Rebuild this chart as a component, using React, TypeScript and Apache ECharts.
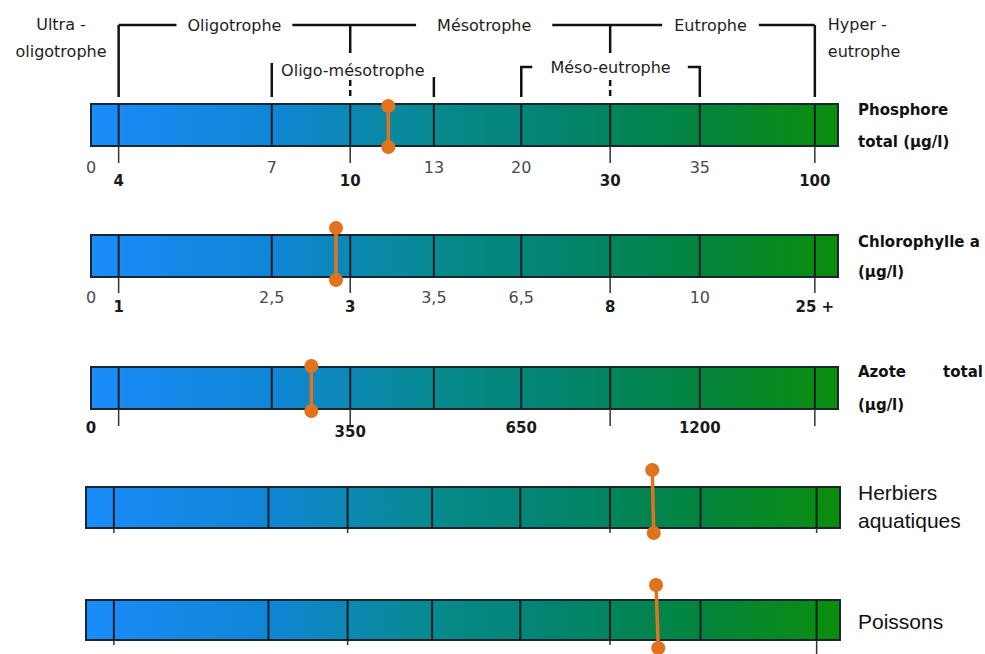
import React, { useEffect, useRef } from "react";
import * as echarts from "echarts";

// ---------- DATA ----------
const classLabels = ["Ultra -\noligotrophe", "Oligotrophe", "Mésotrophe", "Eutrophe", "Hyper -\neutrophe"];
const subClassLabels = ["Oligo-mésotrophe", "Méso-eutrophe"];
// position of each class boundary along the scale (% of the bar length)
const boundaryPos = [3.7, 24.2, 34.7, 45.9, 57.6, 69.5, 81.5, 96.9];
// boundaries between main classes (others are sub-class boundaries)
const majorBoundary = [true, false, true, false, false, true, false, true];
// tick labels: index 0 sits at the start of the scale, index i at boundary i-1
const phosphoreTicks = ["0", "4", "7", "10", "13", "20", "30", "35", "100"];
const chlorophylleTicks = ["0", "1", "2,5", "3", "3,5", "6,5", "8", "10", "25 +"];
const azoteTicks = ["0", "", "", "350", "", "650", "", "1200", ""];
const herbiersTicks: string[] = [];
const poissonsTicks: string[] = [];
const parameterLine1 = ["Phosphore", "Chlorophylle a", "Azote||total", "Herbiers", "Poissons"];
const parameterLine2 = ["total (µg/l)", "(µg/l)", "(µg/l)", "aquatiques", ""];
// position of the lake on each scale (% of the bar length), top and bottom end of the marker
const markerTopPos = [39.8, 32.8, 29.5, 75.1, 75.6];
const markerBottomPos = [39.8, 32.8, 29.5, 75.3, 75.9];

const tickLabels = [phosphoreTicks, chlorophylleTicks, azoteTicks, herbiersTicks, poissonsTicks];

// ---------- LAYOUT / STYLE ----------
const W = 985;
const H = 654;
const rowLayout = [
  { left: 91, right: 838, top: 104, height: 42, tickBelow: 17, normalDy: 21, boldDy: 35, allBold: false, mAbove: -2, mBelow: 1, l1: 6, l2: -4, big: false, lastTickBelow: 0 },
  { left: 91, right: 838, top: 235, height: 42, tickBelow: 16, normalDy: 20, boldDy: 30, allBold: false, mAbove: 7, mBelow: 3, l1: 7, l2: -5, big: false, lastTickBelow: 0 },
  { left: 91, right: 838, top: 367, height: 42, tickBelow: 17, normalDy: 19, boldDy: 23, allBold: true, mAbove: 1, mBelow: 2, l1: 5, l2: -4, big: false, lastTickBelow: 0 },
  { left: 86, right: 840, top: 487, height: 41, tickBelow: 5, normalDy: 20, boldDy: 30, allBold: false, mAbove: 17, mBelow: 5, l1: 5, l2: -8, big: true, lastTickBelow: 0 },
  { left: 86, right: 840, top: 600, height: 40, tickBelow: 5, normalDy: 20, boldDy: 30, allBold: false, mAbove: 15, mBelow: 8, l1: 0, l2: 0, big: true, lastTickBelow: 20 },
];
const ORANGE = "#e2731e";
const COMIC = "'DejaVu Sans', 'Noto Sans', sans-serif";
const ARIAL = "'Liberation Sans', Arial, sans-serif";

const gradient = () =>
  new echarts.graphic.LinearGradient(0, 0, 1, 0, [
    { offset: 0, color: "#1a8cfa" },
    { offset: 0.25, color: "#0e86d4" },
    { offset: 0.46, color: "#078a8e" },
    { offset: 0.62, color: "#038470" },
    { offset: 0.82, color: "#03843c" },
    { offset: 1, color: "#0a8e0a" },
  ]);

function rowRenderer(r: number) {
  const L = rowLayout[r];
  return (_params: any, api: any) => {
    const [x0, yB] = api.coord([0, 0]);
    const [x1, yT] = api.coord([100, 1]);
    const children: any[] = [];
    children.push({
      type: "rect",
      shape: { x: x0, y: yT, width: x1 - x0, height: yB - yT },
      style: { fill: gradient(), stroke: "#1b2630", lineWidth: 2 },
    });
    boundaryPos.forEach((p, i) => {
      const x = api.coord([p, 0])[0];
      children.push({
        type: "line",
        shape: { x1: x, y1: yT, x2: x, y2: yB },
        style: { stroke: "#0f1c24", lineWidth: 2 },
      });
      if (majorBoundary[i]) {
        const ext = i === boundaryPos.length - 1 && L.lastTickBelow ? L.lastTickBelow : L.tickBelow;
        children.push({
          type: "line",
          shape: { x1: x, y1: yB, x2: x, y2: yB + ext },
          style: { stroke: "#333", lineWidth: 1.5 },
        });
      }
    });
    // tick labels
    tickLabels[r].forEach((t, i) => {
      if (!t) return;
      const pos = i === 0 ? 0 : boundaryPos[i - 1];
      const major = i > 0 && majorBoundary[i - 1];
      const x = api.coord([pos, 0])[0];
      const bold = L.allBold || major;
      children.push({
        type: "text",
        x,
        y: yB + (major ? L.boldDy : L.normalDy),
        style: {
          text: t,
          fill: bold ? "#1a1a1a" : "#4a4a4a",
          fontSize: bold ? 15 : 16,
          fontWeight: bold ? "bold" : "normal",
          fontFamily: COMIC,
          align: "center",
          verticalAlign: "middle",
        },
      });
    });
    // parameter name on the right
    const lx = api.coord([100, 0])[0] + (L.big ? 18 : 20);
    const font = L.big
      ? { fontSize: 21, fontFamily: ARIAL, fontWeight: "normal" }
      : { fontSize: 15, fontFamily: COMIC, fontWeight: "bold" };
    const addLine = (txt: string, y: number) => {
      if (!txt) return;
      const parts = txt.split("||");
      children.push({
        type: "text",
        x: lx,
        y,
        style: { text: parts[0], fill: "#111", ...font, align: "left", verticalAlign: "middle" },
      });
      if (parts[1]) {
        children.push({
          type: "text",
          x: lx + 125,
          y,
          style: { text: parts[1], fill: "#111", ...font, align: "right", verticalAlign: "middle" },
        });
      }
    };
    if (parameterLine2[r]) {
      addLine(parameterLine1[r], yT + L.l1);
      addLine(parameterLine2[r], yB + L.l2);
    } else {
      addLine(parameterLine1[r], (yT + yB) / 2 + 1);
    }
    // marker
    const xt = api.coord([markerTopPos[r], 0])[0];
    const xb = api.coord([markerBottomPos[r], 0])[0];
    const ya = yT - L.mAbove;
    const yb = yB + L.mBelow;
    children.push({
      type: "line",
      shape: { x1: xt, y1: ya, x2: xb, y2: yb },
      style: { stroke: ORANGE, lineWidth: 3.5 },
    });
    children.push({ type: "circle", shape: { cx: xt, cy: ya, r: 7 }, style: { fill: ORANGE } });
    children.push({ type: "circle", shape: { cx: xb, cy: yb, r: 7 }, style: { fill: ORANGE } });
    return { type: "group", children };
  };
}

function headerRenderer(_params: any, api: any) {
  const [x0] = api.coord([0, 0]);
  const yT = api.coord([0, 1])[1];
  const xb = (i: number) => api.coord([boundaryPos[i], 0])[0];
  const ln = { stroke: "#111", lineWidth: 2.5 };
  const yMain = yT - 79;
  const yEnd = yT - 7;
  const children: any[] = [];
  const line = (x1: number, y1: number, x2: number, y2: number, dash?: number[]) =>
    children.push({ type: "line", shape: { x1, y1, x2, y2 }, style: { ...ln, lineDash: dash } });
  line(xb(0), yMain, xb(7), yMain);
  line(xb(0), yMain, xb(0), yEnd);
  line(xb(7), yMain, xb(7), yEnd);
  line(xb(2), yMain, xb(2), yT - 51);
  line(xb(5), yMain, xb(5), yT - 51);
  line(xb(2), yT - 24, xb(2), yEnd, [6, 4]);
  line(xb(5), yT - 24, xb(5), yEnd, [6, 4]);
  line(xb(1), yT - 41, xb(1), yEnd);
  line(xb(3), yT - 27, xb(3), yEnd);
  children.push({
    type: "polyline",
    shape: { points: [[xb(4) + 11, yT - 37], [xb(4), yT - 37], [xb(4), yEnd]] },
    style: { ...ln, fill: null },
  });
  children.push({
    type: "polyline",
    shape: { points: [[xb(6) - 12, yT - 37], [xb(6), yT - 37], [xb(6), yEnd]] },
    style: { ...ln, fill: null },
  });
  const txt = (text: string, x: number, y: number, align: string, pad?: number) =>
    children.push({
      type: "text",
      x,
      y,
      z2: 10,
      style: {
        text,
        fill: "#1e1e1e",
        fontSize: 16,
        fontFamily: COMIC,
        align,
        verticalAlign: "middle",
        lineHeight: 27,
        backgroundColor: pad ? "#fff" : undefined,
        padding: pad ? [0, pad] : undefined,
      },
    });
  txt(classLabels[0], x0 - 30, yT - 66, "center");
  txt(classLabels[1], (xb(0) + xb(2)) / 2, yMain, "center", 11);
  txt(classLabels[2], (xb(2) + xb(5)) / 2 + 4, yMain, "center", 21);
  txt(classLabels[3], (xb(5) + xb(7)) / 2 - 2, yMain, "center", 12);
  txt(classLabels[4], xb(7) + 13, yT - 66, "left");
  txt(subClassLabels[0], (xb(1) + xb(3)) / 2, yT - 34, "center");
  txt(subClassLabels[1], (xb(4) + xb(6)) / 2, yT - 37, "center");
  return { type: "group", children };
}

export default function App() {
  const ref = useRef<HTMLDivElement>(null);
  useEffect(() => {
    if (!ref.current) return;
    const chart = echarts.init(ref.current, undefined, { renderer: "svg" });
    const grids = rowLayout.map((L) => ({
      left: L.left,
      width: L.right - L.left,
      top: L.top,
      height: L.height,
      containLabel: false,
    }));
    const xAxis = rowLayout.map((_, i) => ({ gridIndex: i, type: "value", min: 0, max: 100, show: false }));
    const yAxis = rowLayout.map((_, i) => ({ gridIndex: i, type: "value", min: 0, max: 1, show: false }));
    const series: any[] = rowLayout.map((_, i) => ({
      type: "custom",
      xAxisIndex: i,
      yAxisIndex: i,
      data: [[markerTopPos[i], 0.5]],
      renderItem: rowRenderer(i),
      silent: true,
    }));
    series.push({
      type: "custom",
      xAxisIndex: 0,
      yAxisIndex: 0,
      data: [[0, 0]],
      renderItem: headerRenderer,
      silent: true,
    });
    chart.setOption({
      animation: false,
      backgroundColor: "#ffffff",
      grid: grids,
      xAxis,
      yAxis,
      series,
    });
    return () => chart.dispose();
  }, []);
  return (
    <div
      ref={ref}
      style={{ position: "fixed", left: 0, top: 0, width: W, height: H }}
    />
  );
}
